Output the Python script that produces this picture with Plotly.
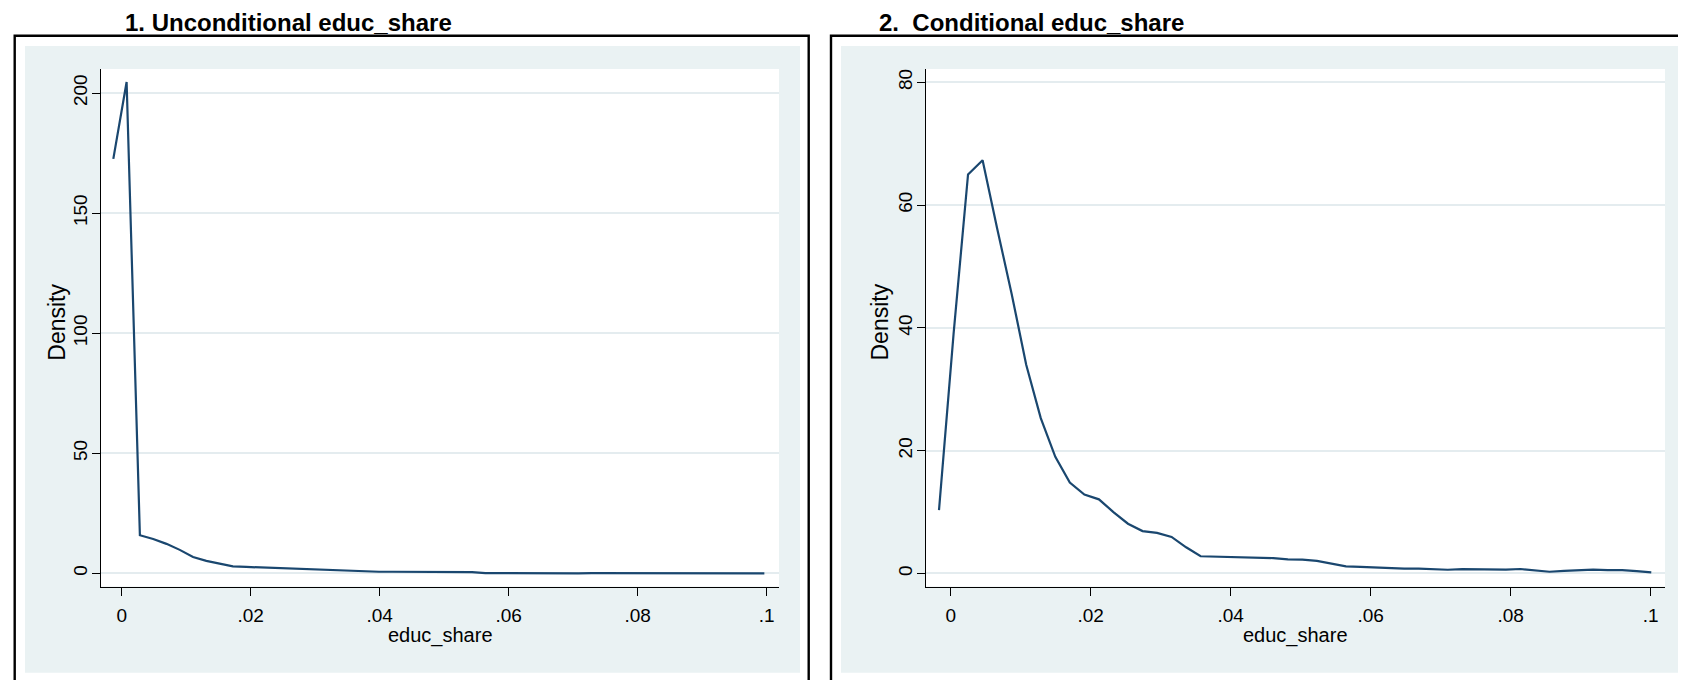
import plotly.graph_objects as go

# The page body has an 8px margin, so the figure is made 8px smaller and all
# screen positions are shifted by that offset.
OFF = 8
W, H = 1686 - OFF, 680 - OFF

# ---------------- data ----------------
panel_titles = ["1. Unconditional educ_share", "2.  Conditional educ_share"]
x_title = "educ_share"
y_title = "Density"

x_uncond = [-0.00130, 0.00076, 0.00282, 0.00488, 0.00694, 0.00900, 0.01106, 0.01312,
            0.01518, 0.01724, 0.01930, 0.02136, 0.02342, 0.02548, 0.02754, 0.02960,
            0.03166, 0.03372, 0.03578, 0.03784, 0.03990, 0.04196, 0.04402, 0.04608,
            0.04814, 0.05020, 0.05226, 0.05432, 0.05638, 0.05844, 0.06050, 0.06256,
            0.06462, 0.06668, 0.06874, 0.07080, 0.07286, 0.07492, 0.07698, 0.07904,
            0.08110, 0.08316, 0.08522, 0.08728, 0.08934, 0.09140, 0.09346, 0.09552,
            0.09758, 0.09964]
dens_uncond = [172.6, 204.6, 15.9, 14.3, 12.3, 9.8, 6.8, 5.2,
               4.1, 2.9, 2.7, 2.5, 2.2, 1.8, 1.6, 1.5,
               1.4, 1.0, 0.8, 0.7, 0.7, 0.7, 0.7, 0.65,
               0.65, 0.55, 0.5, 0.5, 0.15, 0.1, 0.1, 0.1,
               0.1, 0.1, 0.1, 0.0, 0.1, 0.1, 0.1, 0.1,
               0.1, 0.1, 0.05, 0.0, 0.1, 0.1, 0.1, 0.0,
               0.0, 0.0]

x_cond = [-0.00167, 0.00041, 0.00248, 0.00456, 0.00664, 0.00872, 0.01079, 0.01287,
          0.01495, 0.01702, 0.01910, 0.02118, 0.02325, 0.02533, 0.02741, 0.02948,
          0.03156, 0.03364, 0.03571, 0.03779, 0.03987, 0.04195, 0.04402, 0.04610,
          0.04818, 0.05025, 0.05233, 0.05441, 0.05648, 0.05856, 0.06064, 0.06271,
          0.06479, 0.06687, 0.06895, 0.07102, 0.07310, 0.07518, 0.07725, 0.07933,
          0.08141, 0.08348, 0.08556, 0.08764, 0.08971, 0.09179, 0.09387, 0.09594,
          0.09802, 0.10010]
dens_cond = [10.3, 39.0, 65.0, 67.3, 56.2, 45.5, 34.0, 25.3,
             19.0, 14.8, 12.85, 12.07, 10.0, 8.1, 6.9, 6.6,
             5.95, 4.26, 2.8, 2.75, 2.72, 2.64, 2.58, 2.5,
             2.3, 2.24, 2.05, 1.6, 1.15, 1.08, 1.0, 0.8,
             0.77, 0.77, 0.65, 0.6, 0.7, 0.65, 0.6, 0.62,
             0.72, 0.55, 0.27, 0.42, 0.58, 0.62, 0.55, 0.55,
             0.38, 0.16]

x_tickvals = [0, 0.02, 0.04, 0.06, 0.08, 0.1]
x_ticktext = ["0", ".02", ".04", ".06", ".08", ".1"]
y1_tickvals = [0, 50, 100, 150, 200]
y1_ticktext = ["0", "50", "100", "150", "200"]
y2_tickvals = [0, 20, 40, 60, 80]
y2_ticktext = ["0", "20", "40", "60", "80"]

# ---------------- styling ----------------
FONT = "Liberation Sans, Arial, sans-serif"
LINE_COLOR = "#1A476F"
REGION_GRAY = "#EAF2F3"
GRID_COLOR = "#E4ECEF"


def fx(s):
    return (s - OFF) / W


def fy(s):
    return 1 - (s - OFF) / H


fig = go.Figure()
fig.add_trace(go.Scatter(x=x_uncond, y=dens_uncond, mode="lines",
                         line=dict(color=LINE_COLOR, width=2.2),
                         xaxis="x", yaxis="y", showlegend=False))
fig.add_trace(go.Scatter(x=x_cond, y=dens_cond, mode="lines",
                         line=dict(color=LINE_COLOR, width=2.2),
                         xaxis="x2", yaxis="y2", showlegend=False))

plot_top, plot_bot = 69, 586.5
ydom = [fy(plot_bot), fy(plot_top)]

common_x = dict(tickvals=x_tickvals, ticktext=x_ticktext, showgrid=False,
                zeroline=False, showline=True, linecolor="#000000", linewidth=1,
                ticks="outside", ticklen=8, tickcolor="#000000", tickwidth=1,
                tickfont=dict(family=FONT, size=19, color="#000000"),
                ticklabelstandoff=4)
common_y = dict(showgrid=True, gridcolor=GRID_COLOR, gridwidth=1.5,
                zeroline=False, showline=True, linecolor="#000000", linewidth=1,
                ticks="outside", ticklen=8, tickcolor="#000000", tickwidth=1,
                tickangle=-90,
                tickfont=dict(family=FONT, size=19, color="#000000"),
                ticklabelstandoff=-3)

fig.update_layout(
    width=W, height=H,
    margin=dict(l=0, r=0, t=0, b=0, autoexpand=False),
    paper_bgcolor="#FFFFFF",
    plot_bgcolor="#FFFFFF",
    xaxis=dict(domain=[fx(101), fx(779)], range=[-0.00321, 0.10191],
               anchor="y", **common_x),
    yaxis=dict(domain=ydom, range=[-5.45, 210.0], anchor="x",
               tickvals=y1_tickvals, ticktext=y1_ticktext, **common_y),
    xaxis2=dict(domain=[fx(925.7), fx(1665)], range=[-0.00357, 0.10206],
                anchor="y2", **common_x),
    yaxis2=dict(domain=ydom, range=[-2.13, 82.18], anchor="x2",
                tickvals=y2_tickvals, ticktext=y2_ticktext, **common_y),
)

shapes = []
# graph region (light gray) and plot region (white)
for gx0, gx1, px0, px1 in [(25, 800, 101, 779), (841, 1700, 925.7, 1665)]:
    shapes.append(dict(type="rect", xref="paper", yref="paper", layer="below",
                       x0=fx(gx0), x1=fx(gx1), y0=fy(672.7), y1=fy(46),
                       fillcolor=REGION_GRAY, line=dict(width=0)))
    shapes.append(dict(type="rect", xref="paper", yref="paper", layer="below",
                       x0=fx(px0), x1=fx(px1), y0=fy(plot_bot), y1=fy(plot_top),
                       fillcolor="#FFFFFF", line=dict(width=0)))
# black outer borders
for bx0, bx1 in [(14.7, 808.7), (831, 1720)]:
    shapes.append(dict(type="rect", xref="paper", yref="paper", layer="below",
                       x0=fx(bx0), x1=fx(bx1), y0=fy(720), y1=fy(35.7),
                       fillcolor="rgba(0,0,0,0)", line=dict(color="#000000", width=2.4)))
fig.update_layout(shapes=shapes)

annotations = []
for title, cx in zip(panel_titles, [288.7, 1031]):
    annotations.append(dict(text="<b>" + title + "</b>", xref="paper", yref="paper",
                            x=fx(cx), y=1.0, xanchor="center", yanchor="top",
                            showarrow=False, borderpad=0,
                            font=dict(family=FONT, size=24, color="#000000")))
for cx in [440, 1295.3]:
    annotations.append(dict(text=x_title, xref="paper", yref="paper",
                            x=fx(cx), y=fy(635), xanchor="center", yanchor="middle",
                            showarrow=False,
                            font=dict(family=FONT, size=20, color="#000000")))
for cx in [56.7, 879.5]:
    annotations.append(dict(text=y_title, xref="paper", yref="paper", textangle=-90,
                            x=fx(cx), y=fy(322), xanchor="center", yanchor="middle",
                            showarrow=False,
                            font=dict(family=FONT, size=23, color="#000000")))
fig.update_layout(annotations=annotations)

fig.write_html("out.html")
